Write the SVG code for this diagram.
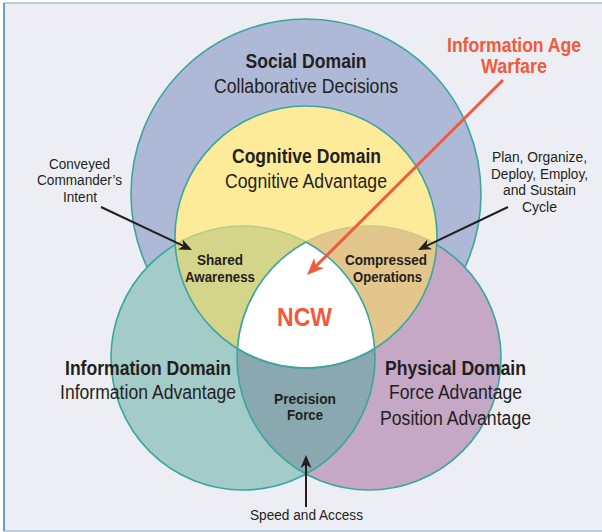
<svg xmlns="http://www.w3.org/2000/svg" width="602" height="532" viewBox="0 0 602 532">
<style>
.t{font-family:"Liberation Sans",Arial,sans-serif;fill:#231f20;text-anchor:middle}
.b{font-weight:bold}
.big{font-size:20px}
.sm{font-size:14px}
.sb{font-size:15.5px}
.red{fill:#f15a3a}
.out{stroke:#3aa6a0;stroke-width:1.6}
</style>
<defs>
<clipPath id="cY"><circle cx="306" cy="237" r="131"/></clipPath>
<clipPath id="cT"><circle cx="243" cy="358" r="132"/></clipPath>
<marker id="ak" markerUnits="userSpaceOnUse" viewBox="-14 -7 15 14" refX="-6" refY="0" markerWidth="15" markerHeight="14" orient="auto">
<path d="M0,0 L-13,-5.5 L-9.5,0 L-13,5.5 Z" fill="#231f20"/>
</marker>
<marker id="ar" markerUnits="userSpaceOnUse" viewBox="-18 -8 19 16" refX="-8" refY="0" markerWidth="19" markerHeight="16" orient="auto">
<path d="M0,0 L-17,-7 L-12.5,0 L-17,7 Z" fill="#f15a3a"/>
</marker>
</defs>
<rect x="4" y="3" width="610" height="528" fill="#edeef4" stroke="#a7bfd6" stroke-width="1.5"/>
<line x1="4" y1="3" x2="4" y2="531" stroke="#6a9fd0" stroke-width="2"/>

<g id="social-domain">
<circle cx="306" cy="194" r="175" fill="#aeb9d7" class="out"/>
</g>
<g id="information-domain">
<circle cx="243" cy="358" r="132" fill="#a3ccc9"/>
</g>
<g id="physical-domain">
<circle cx="369" cy="358" r="132" fill="#c4a8c6"/>
</g>
<g id="precision-force">
<circle cx="369" cy="358" r="132" fill="#8aa8b0" clip-path="url(#cT)"/>
</g>
<g id="domain-outlines">
<circle cx="243" cy="358" r="132" fill="none" class="out"/>
<circle cx="369" cy="358" r="132" fill="none" class="out"/>
</g>
<g id="cognitive-domain">
<circle cx="306" cy="237" r="131" fill="#fdeb99"/>
</g>
<g id="shared-awareness">
<circle cx="243" cy="358" r="132" fill="#d5d589" stroke="#b3cd86" stroke-width="1.6" clip-path="url(#cY)"/>
</g>
<g id="compressed-operations">
<circle cx="369" cy="358" r="132" fill="#e3c68c" stroke="#c9c98a" stroke-width="1.6" clip-path="url(#cY)"/>
</g>
<g id="ncw">
<path d="M306,242 A132,132 0 0 0 237.4,348.6 A131,131 0 0 0 374.6,348.6 A132,132 0 0 0 306,242 Z" fill="#ffffff" class="out"/>
</g>
<g id="cognitive-outline">
<circle cx="306" cy="237" r="131" fill="none" class="out"/>
</g>

<g id="connectors">
<line x1="101" y1="207" x2="186.6" y2="247.4" stroke="#231f20" stroke-width="2" marker-end="url(#ak)"/>
<line x1="508" y1="207" x2="423.4" y2="247.4" stroke="#231f20" stroke-width="2" marker-end="url(#ak)"/>
<line x1="306" y1="507" x2="306" y2="461" stroke="#231f20" stroke-width="2" marker-end="url(#ak)"/>
<line x1="503" y1="80" x2="312.7" y2="269.4" stroke="#f15a3a" stroke-width="3" marker-end="url(#ar)"/>
</g>

<g id="labels">
<text class="t b big" x="306" y="68" textLength="121" lengthAdjust="spacingAndGlyphs">Social Domain</text>
<text class="t big" x="306" y="92.5" textLength="184" lengthAdjust="spacingAndGlyphs">Collaborative Decisions</text>
<text class="t b big" x="306.5" y="163" textLength="149" lengthAdjust="spacingAndGlyphs">Cognitive Domain</text>
<text class="t big" x="306" y="188" textLength="162" lengthAdjust="spacingAndGlyphs">Cognitive Advantage</text>
<text class="t b big red" x="514" y="52" textLength="134" lengthAdjust="spacingAndGlyphs">Information Age</text>
<text class="t b big red" x="514" y="73" textLength="66" lengthAdjust="spacingAndGlyphs">Warfare</text>
<text class="t sm" x="539.5" y="162" textLength="95" lengthAdjust="spacingAndGlyphs">Plan, Organize,</text>
<text class="t sm" x="539.5" y="178.5" textLength="97" lengthAdjust="spacingAndGlyphs">Deploy, Employ,</text>
<text class="t sm" x="539.5" y="195" textLength="73" lengthAdjust="spacingAndGlyphs">and Sustain</text>
<text class="t sm" x="539.5" y="211.5" textLength="35" lengthAdjust="spacingAndGlyphs">Cycle</text>
<text class="t sm" x="79.5" y="168.5" textLength="61" lengthAdjust="spacingAndGlyphs">Conveyed</text>
<text class="t sm" x="79.5" y="185" textLength="85" lengthAdjust="spacingAndGlyphs">Commander’s</text>
<text class="t sm" x="80" y="201.5" textLength="34" lengthAdjust="spacingAndGlyphs">Intent</text>
<text class="t b sb" x="220" y="265" textLength="46" lengthAdjust="spacingAndGlyphs">Shared</text>
<text class="t b sb" x="220" y="282" textLength="70" lengthAdjust="spacingAndGlyphs">Awareness</text>
<text class="t b sb" x="386" y="265" textLength="82" lengthAdjust="spacingAndGlyphs">Compressed</text>
<text class="t b sb" x="387.5" y="282" textLength="69" lengthAdjust="spacingAndGlyphs">Operations</text>
<text class="t b red" x="304.5" y="326" font-size="26" textLength="55" lengthAdjust="spacingAndGlyphs">NCW</text>
<text class="t b big" x="148" y="375" textLength="166" lengthAdjust="spacingAndGlyphs">Information Domain</text>
<text class="t big" x="148" y="399" textLength="176" lengthAdjust="spacingAndGlyphs">Information Advantage</text>
<text class="t b big" x="455.5" y="375" textLength="141" lengthAdjust="spacingAndGlyphs">Physical Domain</text>
<text class="t big" x="455.5" y="399" textLength="133" lengthAdjust="spacingAndGlyphs">Force Advantage</text>
<text class="t big" x="455.5" y="425" textLength="151" lengthAdjust="spacingAndGlyphs">Position Advantage</text>
<text class="t b sb" x="305" y="404" textLength="62" lengthAdjust="spacingAndGlyphs">Precision</text>
<text class="t b sb" x="305" y="420" textLength="36" lengthAdjust="spacingAndGlyphs">Force</text>
<text class="t sm" x="306.5" y="520" textLength="113" lengthAdjust="spacingAndGlyphs">Speed and Access</text>
</g>
</svg>
